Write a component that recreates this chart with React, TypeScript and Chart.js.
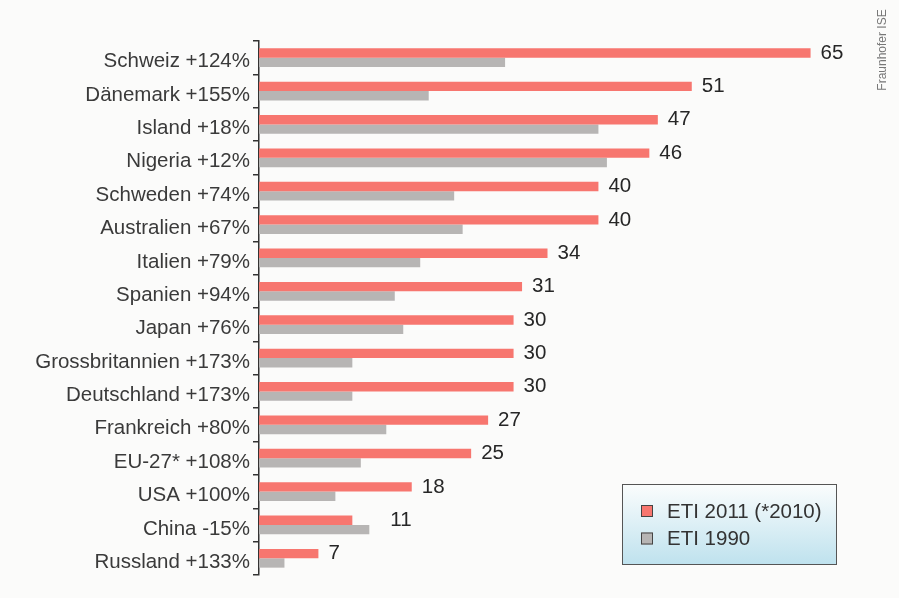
import React, { useEffect, useRef } from "react";
import { Chart, registerables } from "chart.js";

Chart.register(...registerables);

const categories = [
  "Schweiz +124%",
  "Dänemark +155%",
  "Island +18%",
  "Nigeria +12%",
  "Schweden +74%",
  "Australien +67%",
  "Italien +79%",
  "Spanien +94%",
  "Japan +76%",
  "Grossbritannien +173%",
  "Deutschland +173%",
  "Frankreich +80%",
  "EU-27* +108%",
  "USA +100%",
  "China -15%",
  "Russland +133%",
];
const eti2011 = [65, 51, 47, 46, 40, 40, 34, 31, 30, 30, 30, 27, 25, 18, 11, 7];
const eti1990 = [29, 20, 40, 41, 23, 24, 19, 16, 17, 11, 11, 15, 12, 9, 13, 3];
const seriesLabels = ["ETI 2011 (*2010)", "ETI 1990"];
const sourceLabel = "Fraunhofer ISE";

const RED = "#f7766f";
const GRAY = "#b7b5b4";
const FONT = "'Liberation Sans', Arial, sans-serif";

const overlayPlugin = {
  id: "overlay",
  afterDatasetsDraw(chart: any) {
    const ctx = chart.ctx;
    const meta = chart.getDatasetMeta(0);
    const meta2 = chart.getDatasetMeta(1);
    ctx.save();
    ctx.font = `20.5px ${FONT}`;
    ctx.fillStyle = "#262626";
    ctx.textAlign = "left";
    ctx.textBaseline = "middle";
    meta.data.forEach((bar: any, i: number) => {
      const g = meta2.data[i];
      const x = Math.max(bar.x + 10, g.x + 21);
      ctx.fillText(String(eti2011[i]), x, bar.y);
    });
    ctx.restore();
  },
  afterDraw(chart: any) {
    const ctx = chart.ctx;
    ctx.save();
    // legend box
    const lx = 622, ly = 484, lw = 214, lh = 80;
    const g = ctx.createLinearGradient(0, ly, 0, ly + lh);
    g.addColorStop(0, "#fbfdfd");
    g.addColorStop(1, "#bfe2ee");
    ctx.fillStyle = g;
    ctx.fillRect(lx, ly, lw, lh);
    ctx.strokeStyle = "#555";
    ctx.lineWidth = 1;
    ctx.strokeRect(lx + 0.5, ly + 0.5, lw, lh);
    const items = [
      { c: RED, t: seriesLabels[0], y: 511 },
      { c: GRAY, t: seriesLabels[1], y: 538.5 },
    ];
    ctx.font = `20.5px ${FONT}`;
    ctx.textBaseline = "middle";
    ctx.textAlign = "left";
    items.forEach((it) => {
      ctx.fillStyle = it.c;
      ctx.fillRect(641, it.y - 6, 12, 12);
      ctx.strokeStyle = "#444";
      ctx.strokeRect(641.5, it.y - 5.5, 11, 11);
      ctx.fillStyle = "#333";
      ctx.fillText(it.t, 667, it.y + 1);
    });
    // source text
    ctx.translate(883, 50);
    ctx.rotate(-Math.PI / 2);
    ctx.font = `12px ${FONT}`;
    ctx.fillStyle = "#777";
    ctx.textAlign = "center";
    ctx.textBaseline = "middle";
    ctx.fillText(sourceLabel, 0, 0);
    ctx.restore();
  },
};

export default function App() {
  const ref = useRef<HTMLCanvasElement | null>(null);
  useEffect(() => {
    document.body.style.margin = "0";
    document.body.style.background = "#fbfbfa";
    const chart = new Chart(ref.current as HTMLCanvasElement, {
      type: "bar",
      data: {
        labels: categories,
        datasets: [
          { label: seriesLabels[0], data: eti2011, backgroundColor: RED, categoryPercentage: 0.56, barPercentage: 1 },
          { label: seriesLabels[1], data: eti1990, backgroundColor: GRAY, categoryPercentage: 0.56, barPercentage: 1 },
        ],
      },
      options: {
        indexAxis: "y",
        animation: false,
        responsive: false,
        layout: { padding: { left: 0, top: 41, bottom: 23, right: 46 } },
        plugins: { legend: { display: false }, tooltip: { enabled: false } },
        scales: {
          x: { display: false, min: 0, max: 70 },
          y: {
            afterFit: (axis: any) => {
              axis.width = 259;
            },
            grid: {
              display: true,
              drawOnChartArea: false,
              drawTicks: true,
              tickLength: 6,
              offset: true,
              color: "#333",
              lineWidth: 1.5,
            },
            border: { display: true, color: "#333", width: 1.5 },
            ticks: {
              color: "#3a3a3a",
              font: { family: FONT, size: 20.5 },
              padding: 3,
              labelOffset: 4,
            },
          },
        },
      },
      plugins: [overlayPlugin],
    });
    return () => chart.destroy();
  }, []);
  return (
    <div style={{ position: "absolute", left: 0, top: 0, width: 899, height: 598, background: "#fbfbfa" }}>
      <canvas ref={ref} width={899} height={598} />
    </div>
  );
}
